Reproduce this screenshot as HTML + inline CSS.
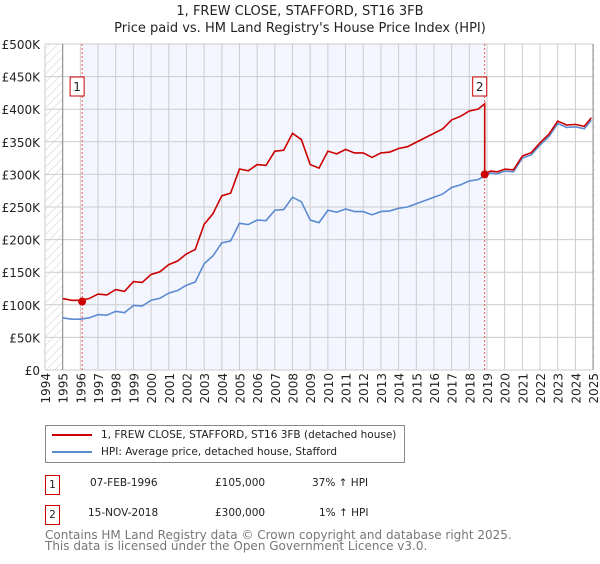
<!DOCTYPE html>
<html><head><meta charset="utf-8"><style>
body{margin:0;width:600px;height:560px;background:#fff;font-family:"DejaVu Sans","Liberation Sans",sans-serif;overflow:hidden}
svg text{font-family:"DejaVu Sans","Liberation Sans",sans-serif}
</style></head><body>
<svg width="600" height="560">
<defs><pattern id="hatch" width="6" height="6" patternUnits="userSpaceOnUse" patternTransform="rotate(45)"><line x1="0" y1="0" x2="0" y2="6" stroke="#ccc" stroke-width="1"/></pattern></defs>
<g id="root"></g>
</svg>
<script>
const years=[1995,1995.5,1996,1996.5,1997,1997.5,1998,1998.5,1999,1999.5,2000,2000.5,2001,2001.5,2002,2002.5,2003,2003.5,2004,2004.5,2005,2005.5,2006,2006.5,2007,2007.5,2008,2008.5,2009,2009.5,2010,2010.5,2011,2011.5,2012,2012.5,2013,2013.5,2014,2014.5,2015,2015.5,2016,2016.5,2017,2017.5,2018,2018.5,2018.87,2019.2,2019.6,2020,2020.5,2021,2021.5,2022,2022.5,2023,2023.5,2024,2024.5,2024.9];
const hpi=[80,78,78,80,85,84,90,88,99,98,107,110,118,122,130,135,163,175,195,198,225,223,230,229,245,246,265,258,230,226,245,242,247,243,243,238,243,244,248,250,255,260,265,270,280,284,290,292,298,302,301,305,304,325,330,345,358,378,372,373,370,383];
const sales=[{n:"1",year:1996.1,price:105},{n:"2",year:2018.87,price:300}];
const yTicks=[0,50,100,150,200,250,300,350,400,450,500];
const yLabels=["£0","£50K","£100K","£150K","£200K","£250K","£300K","£350K","£400K","£450K","£500K"];
const xTicks=[1994,1995,1996,1997,1998,1999,2000,2001,2002,2003,2004,2005,2006,2007,2008,2009,2010,2011,2012,2013,2014,2015,2016,2017,2018,2019,2020,2021,2022,2023,2024,2025];
const X=y=>45+(y-1994)*17.68, Y=v=>370-v*0.652;
const ns="http://www.w3.org/2000/svg",root=document.getElementById('root');
function el(t,a,p){const e=document.createElementNS(ns,t);for(const k in a)e.setAttribute(k,a[k]);(p||root).appendChild(e);return e;}
let e;
e=el('rect',{x:X(1996.1),y:44,width:X(2018.87)-X(1996.1),height:326,fill:'#f3f6fe'});

e=el('rect',{x:45,y:44,width:X(1995)-45,height:326,fill:'url(#hatch)'});

e=el('rect',{x:X(2025),y:44,width:2,height:326,fill:'url(#hatch)'});

xTicks.forEach(t=>{e=el('line',{x1:X(t),x2:X(t),y1:44,y2:370,stroke:'#ccc'});
 e=el('text',{transform:`translate(${X(t)+5},373) rotate(-90)`,'text-anchor':'end','font-size':12,fill:'#222'});e.textContent=t;});
yTicks.forEach((t,i)=>{e=el('line',{x1:45,x2:X(2025),y1:Y(t),y2:Y(t),stroke:'#ccc'});
 e=el('text',{x:40,y:Y(t)+5,'text-anchor':'end','font-size':12,fill:'#222'});e.textContent=yLabels[i];});
e=el('line',{x1:X(1995),x2:X(1995),y1:44,y2:370,stroke:'#888'});
e=el('line',{x1:X(2025),x2:X(2025),y1:44,y2:370,stroke:'#888'});
sales.forEach(s=>{e=el('line',{x1:X(s.year),x2:X(s.year),y1:44,y2:370,stroke:'#e55','stroke-dasharray':'2,2'});});
const r1=1.37,r2=1.01;
e=el('polyline',{points:years.map((y,i)=>X(y)+','+Y(hpi[i])).join(' '),fill:'none',stroke:'#5b8bd0','stroke-width':1.6});

const pts=[];years.forEach((y,i)=>{if(y<=sales[1].year)pts.push(X(y)+','+Y(hpi[i]*r1));});
years.forEach((y,i)=>{if(y>=sales[1].year)pts.push(X(y)+','+Y(hpi[i]*r2));});
e=el('polyline',{points:pts.join(' '),fill:'none',stroke:'#cc0000','stroke-width':1.6});

sales.forEach(s=>{e=el('circle',{cx:X(s.year),cy:Y(s.price),r:4,fill:'#cc0000'});
 const g=el('g',{});
 el('rect',{x:X(s.year)-12,y:77,width:14,height:19,fill:'#fff',stroke:'#cc0000'},g);
 const t=el('text',{x:X(s.year)-5,y:91,'text-anchor':'middle','font-size':12,fill:'#222'},g);t.textContent=s.n;});
</script>
<div style="position:absolute;left:0;top:3px;width:600px;text-align:center;font-size:13px;line-height:17px;color:#222">1, FREW CLOSE, STAFFORD, ST16 3FB<br>Price paid vs. HM Land Registry's House Price Index (HPI)</div>
<div style="position:absolute;left:45px;top:425px;width:358px;height:36px;border:1px solid #888;font-size:10.5px;color:#222">
 <div style="position:absolute;left:6px;top:3px;white-space:nowrap"><span style="display:inline-block;width:40px;border-top:2px solid #cc0000;vertical-align:middle;margin-right:9px"></span>1, FREW CLOSE, STAFFORD, ST16 3FB (detached house)</div>
 <div style="position:absolute;left:6px;top:20px;white-space:nowrap"><span style="display:inline-block;width:40px;border-top:2px solid #5b8bd0;vertical-align:middle;margin-right:9px"></span>HPI: Average price, detached house, Stafford</div>
</div>
<div style="font-size:10.5px;color:#222">
 <div style="position:absolute;left:45px;top:475px;width:13px;height:18px;border:1px solid #cc0000;text-align:center;line-height:18px">1</div>
 <div style="position:absolute;left:90px;top:477px">07-FEB-1996</div>
 <div style="position:absolute;left:215px;top:477px">£105,000</div>
 <div style="position:absolute;left:312px;top:477px">37% ↑ HPI</div>
 <div style="position:absolute;left:45px;top:505px;width:13px;height:18px;border:1px solid #cc0000;text-align:center;line-height:18px">2</div>
 <div style="position:absolute;left:88px;top:507px">15-NOV-2018</div>
 <div style="position:absolute;left:215px;top:507px">£300,000</div>
 <div style="position:absolute;left:319px;top:507px">1% ↑ HPI</div>
</div>
<div style="position:absolute;left:45px;top:530px;font-size:12px;line-height:11px;color:#777;white-space:nowrap">Contains HM Land Registry data © Crown copyright and database right 2025.<br>This data is licensed under the Open Government Licence v3.0.</div>
</body></html>
